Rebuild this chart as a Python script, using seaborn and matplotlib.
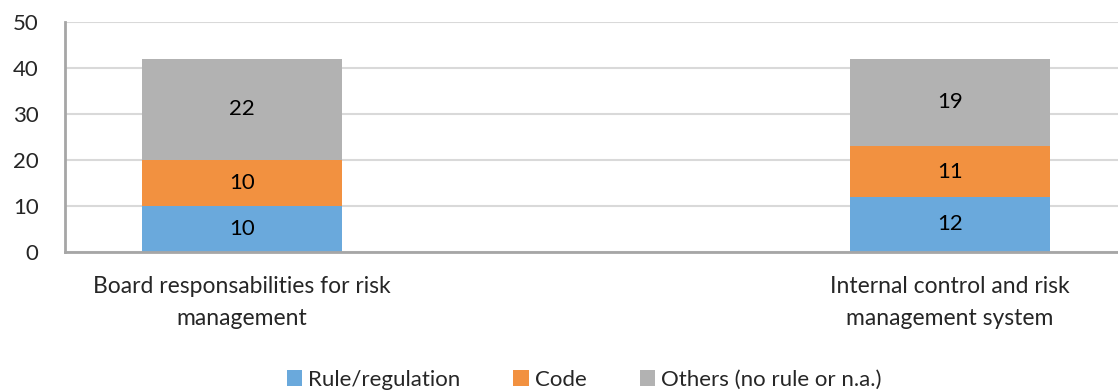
import pandas as pd
import matplotlib
matplotlib.use("Agg")
import matplotlib.pyplot as plt
import seaborn as sns
from matplotlib.patches import Patch

sns.set_style("white")
plt.rcParams['font.family'] = ['Lato', 'DejaVu Sans']

# dados
categorias = ["Board responsabilities for risk\nmanagement", " ",
              "Internal control and risk\nmanagement system"]
cat_com_dados = [categorias[0], categorias[2]]
rule = [10, 12]
code = [10, 11]
others = [22, 19]
series = ["Rule/regulation", "Code", "Others (no rule or n.a.)"]
cores = ["#6AA9DC", "#F29140", "#B2B2B2"]

df = pd.DataFrame({"cat": cat_com_dados, "rule": rule, "code": code, "others": others})
df["c1"] = df["rule"]
df["c2"] = df["rule"] + df["code"]
df["c3"] = df["c2"] + df["others"]

fig = plt.figure(figsize=(11.18, 3.92), dpi=100)
ax = fig.add_axes([65 / 1118, 1 - 252 / 392, (1127 - 65) / 1118, 230 / 392])

# empilhado: desenha do topo para a base
for col, cor in zip(["c3", "c2", "c1"], cores[::-1]):
    sns.barplot(data=df, x="cat", y=col, order=categorias, color=cor,
                width=0.565, saturation=1, ax=ax, errorbar=None, linewidth=0)

# rótulos dos segmentos
for i, cat in enumerate(cat_com_dados):
    pos = categorias.index(cat)
    base = 0
    for v in [rule[i], code[i], others[i]]:
        ax.text(pos, base + v / 2, str(v), ha="center", va="center", fontsize=16, color="black")
        base += v

ax.set_ylim(0, 50)
ax.set_xlim(-0.5, 2.5)
ax.set_yticks(range(0, 51, 10))
ax.yaxis.grid(True, color="#D9D9D9", linewidth=1.5)
ax.set_axisbelow(True)
ax.set_xlabel("")
ax.set_ylabel("")

# ticks nas divisões das categorias, rótulos no centro
ax.set_xticks([-0.5, 0.5, 1.5, 2.5])
ax.set_xticklabels([])
ax.set_xticks([0, 1, 2], minor=True)
ax.set_xticklabels(categorias, minor=True, fontsize=16.5, linespacing=1.65)
ax.tick_params(axis="x", which="major", direction="out", length=6, width=1.5, color="#A6A6A6")
ax.tick_params(axis="x", which="minor", length=0, pad=17)
ax.tick_params(axis="y", direction="out", length=7, width=1.5, color="#A6A6A6", labelsize=16, pad=12)

for s in ["top", "right"]:
    ax.spines[s].set_visible(False)
for s in ["left", "bottom"]:
    ax.spines[s].set_color("#A6A6A6")
    ax.spines[s].set_linewidth(2)

handles = [Patch(facecolor=c, edgecolor="none") for c in cores]
fig.legend(handles, series, loc="center", bbox_to_anchor=(584 / 1118, 1 - 380 / 392), ncol=3,
           frameon=False, fontsize=16, handlelength=0.7, handleheight=0.7,
           handletextpad=0.25, columnspacing=2.4)

fig.savefig("out.png", dpi=100)
